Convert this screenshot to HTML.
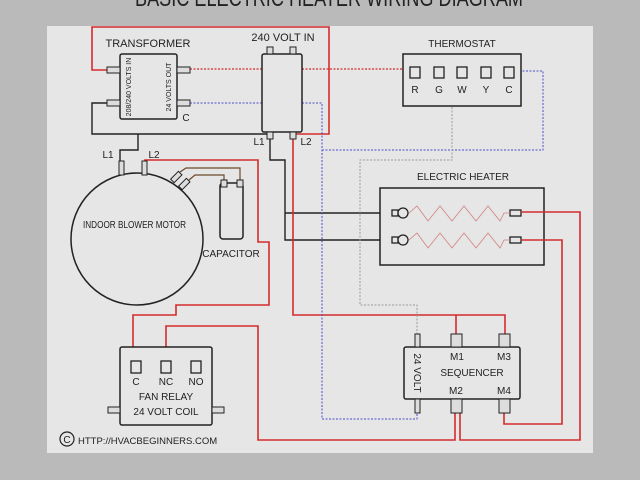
<!DOCTYPE html>
<html><head><meta charset="utf-8"><style>
html,body{margin:0;padding:0;background:#bababa;}
svg{display:block;}
text{font-family:"Liberation Sans",sans-serif;fill:#222;}
</style></head><body>
<svg width="640" height="480" viewBox="0 0 640 480" xmlns="http://www.w3.org/2000/svg">
<rect x="0" y="0" width="640" height="480" fill="#bababa"/>
<text x="135" y="6" font-size="24" textLength="388" lengthAdjust="spacingAndGlyphs" fill="#333">BASIC ELECTRIC HEATER WIRING DIAGRAM</text>
<rect x="47" y="26" width="546" height="427" fill="#e6e6e6"/>

<!-- red power loop -->
<polyline points="107,70 92,70 92,27 329,27 329,134 293,134" fill="none" stroke="#d42b2b" stroke-width="1.6"/>
<!-- black lines -->
<polyline points="107,103 92,103 92,134 270,134" fill="none" stroke="#222" stroke-width="1.4"/>
<polyline points="138,134 138,150 120,150 120,162" fill="none" stroke="#222" stroke-width="1.4"/>
<polyline points="270,139 270,160 285,160 285,240 393,240" fill="none" stroke="#222" stroke-width="1.4"/>
<line x1="285" y1="213" x2="393" y2="213" stroke="#222" stroke-width="1.4"/>
<!-- L2 red to sequencer -->
<polyline points="293,139 293,315 505,315 505,334" fill="none" stroke="#d42b2b" stroke-width="1.6"/>
<line x1="456" y1="315" x2="456" y2="334" stroke="#d42b2b" stroke-width="1.6"/>
<!-- dotted -->
<line x1="190" y1="69" x2="410" y2="69" stroke="#d42b2b" stroke-width="1.3" stroke-dasharray="2,1.5"/>
<polyline points="190,103 322,103 322,419 417,419 417,413" fill="none" stroke="#4a4ad0" stroke-width="1" stroke-dasharray="2,1.5"/>
<polyline points="322,150 543,150 543,71 517,71" fill="none" stroke="#4a4ad0" stroke-width="1" stroke-dasharray="2,1.5"/>
<polyline points="452,72 452,160 360,160 360,305 417,305 417,334" fill="none" stroke="#999" stroke-width="1" stroke-dasharray="2,1.5"/>

<!-- transformer -->
<text x="148" y="47" font-size="11" text-anchor="middle">TRANSFORMER</text>
<rect x="120" y="54" width="57" height="65" rx="2" fill="#e6e6e6" stroke="#222" stroke-width="1.5"/>
<rect x="107" y="67" width="13" height="6" fill="#ddd" stroke="#222"/>
<rect x="107" y="100" width="13" height="6" fill="#ddd" stroke="#222"/>
<rect x="177" y="67" width="13" height="6" fill="#ddd" stroke="#222"/>
<rect x="177" y="100" width="13" height="6" fill="#ddd" stroke="#222"/>
<text transform="translate(131,87) rotate(-90)" font-size="7" text-anchor="middle">208/240 VOLTS IN</text>
<text transform="translate(171,87) rotate(-90)" font-size="7" text-anchor="middle">24 VOLTS OUT</text>
<text x="186" y="121" font-size="10" text-anchor="middle">C</text>

<!-- 240 volt in -->
<text x="283" y="41" font-size="11" text-anchor="middle">240 VOLT IN</text>
<rect x="262" y="54" width="40" height="78" rx="2" fill="#e6e6e6" stroke="#222" stroke-width="1.5"/>
<rect x="267" y="47" width="6" height="7" fill="#ddd" stroke="#222"/>
<rect x="290" y="47" width="6" height="7" fill="#ddd" stroke="#222"/>
<rect x="267" y="132" width="6" height="7" fill="#ddd" stroke="#222"/>
<rect x="290" y="132" width="6" height="7" fill="#ddd" stroke="#222"/>
<text x="259" y="145" font-size="10" text-anchor="middle">L1</text>
<text x="306" y="145" font-size="10" text-anchor="middle">L2</text>

<!-- thermostat -->
<text x="462" y="47" font-size="10" text-anchor="middle">THERMOSTAT</text>
<rect x="403" y="54" width="118" height="52" fill="#e6e6e6" stroke="#222" stroke-width="1.5"/>
<g fill="#e6e6e6" stroke="#222" stroke-width="1.3">
<rect x="410" y="67" width="10" height="11"/><rect x="434" y="67" width="10" height="11"/><rect x="457" y="67" width="10" height="11"/><rect x="481" y="67" width="10" height="11"/><rect x="504" y="67" width="10" height="11"/>
</g>
<g font-size="10" text-anchor="middle"><text x="415" y="93">R</text><text x="439" y="93">G</text><text x="462" y="93">W</text><text x="486" y="93">Y</text><text x="509" y="93">C</text></g>

<!-- electric heater -->
<text x="463" y="180" font-size="10" text-anchor="middle">ELECTRIC HEATER</text>
<rect x="380" y="188" width="164" height="77" fill="#e6e6e6" stroke="#222" stroke-width="1.5"/>
<g fill="#e6e6e6" stroke="#222" stroke-width="1.3">
<rect x="392" y="210" width="6" height="6"/><circle cx="403" cy="213" r="5"/>
<rect x="392" y="237" width="6" height="6"/><circle cx="403" cy="240" r="5"/>
<rect x="510" y="210" width="11" height="6"/><rect x="510" y="237" width="11" height="6"/>
</g>
<polyline points="409,213 417,206 428,221 440,206 452,221 464,206 476,221 488,206 500,221 504,213 510,213" fill="none" stroke="#d08080" stroke-width="0.8"/>
<polyline points="409,240 417,233 428,248 440,233 452,248 464,233 476,248 488,233 500,248 504,240 510,240" fill="none" stroke="#d08080" stroke-width="0.8"/>
<polyline points="521,212 580,212 580,440 460,440 460,413" fill="none" stroke="#d42b2b" stroke-width="1.6"/>
<polyline points="521,240 562,240 562,424 504,424 504,413" fill="none" stroke="#d42b2b" stroke-width="1.6"/>

<!-- motor -->
<polyline points="145,162 145,160 258,160 258,242 269,242 269,305 176,305 176,315 133,315 133,361" fill="none" stroke="#d42b2b" stroke-width="1.6"/>
<circle cx="137" cy="239" r="66" fill="#e6e6e6" stroke="#222" stroke-width="1.5"/>
<rect x="119" y="161" width="5" height="14" fill="#ddd" stroke="#222"/>
<rect x="142" y="161" width="5" height="14" fill="#ddd" stroke="#222"/>
<text x="108" y="158" font-size="10" text-anchor="middle">L1</text>
<text x="154" y="158" font-size="10" text-anchor="middle">L2</text>
<text x="83" y="228" font-size="10" textLength="103" lengthAdjust="spacingAndGlyphs">INDOOR BLOWER MOTOR</text>
<polyline points="180,172 186,168 240,168 240,181" fill="none" stroke="#6b4a2a" stroke-width="1.2"/>
<polyline points="189,180 195,175 224,175 224,181" fill="none" stroke="#6b4a2a" stroke-width="1.2"/>
<rect x="174" y="172" width="5" height="11" transform="rotate(45 177 177)" fill="#ddd" stroke="#222"/>
<rect x="182" y="179" width="5" height="11" transform="rotate(45 185 184)" fill="#ddd" stroke="#222"/>
<rect x="220" y="183" width="23" height="56" rx="3" fill="#e6e6e6" stroke="#222" stroke-width="1.5"/>
<rect x="221" y="180" width="6" height="7" fill="#ddd" stroke="#222"/>
<rect x="237" y="180" width="6" height="7" fill="#ddd" stroke="#222"/>
<text x="231" y="257" font-size="10" text-anchor="middle">CAPACITOR</text>

<!-- M2 to NC -->
<polyline points="455,413 455,440 258,440 258,326 166,326 166,361" fill="none" stroke="#d42b2b" stroke-width="1.6"/>

<!-- fan relay -->
<rect x="120" y="347" width="92" height="78" rx="2" fill="#e6e6e6" stroke="#222" stroke-width="1.5"/>
<rect x="108" y="407" width="12" height="6" fill="#ddd" stroke="#222"/>
<rect x="212" y="407" width="12" height="6" fill="#ddd" stroke="#222"/>
<g fill="#e6e6e6" stroke="#222" stroke-width="1.3"><rect x="131" y="361" width="10" height="12"/><rect x="161" y="361" width="10" height="12"/><rect x="191" y="361" width="10" height="12"/></g>
<g font-size="10" text-anchor="middle"><text x="136" y="385">C</text><text x="166" y="385">NC</text><text x="196" y="385">NO</text>
<text x="166" y="400">FAN RELAY</text><text x="166" y="415">24 VOLT COIL</text></g>

<!-- sequencer -->
<rect x="404" y="347" width="116" height="52" rx="2" fill="#e6e6e6" stroke="#222" stroke-width="1.5"/>
<g fill="#ddd" stroke="#222">
<rect x="415" y="334" width="5" height="13"/><rect x="451" y="334" width="11" height="13"/><rect x="499" y="334" width="11" height="13"/>
<rect x="415" y="399" width="5" height="14"/><rect x="451" y="399" width="11" height="14"/><rect x="499" y="399" width="11" height="14"/>
</g>
<g font-size="10" text-anchor="middle"><text x="457" y="360">M1</text><text x="504" y="360">M3</text><text x="472" y="376">SEQUENCER</text><text x="456" y="394">M2</text><text x="504" y="394">M4</text></g>
<text transform="translate(414,373) rotate(90)" font-size="10" text-anchor="middle">24 VOLT</text>

<!-- copyright -->
<circle cx="67" cy="439" r="7" fill="none" stroke="#222" stroke-width="1.2"/>
<text x="67" y="443" font-size="10" text-anchor="middle">C</text>
<text x="78" y="444" font-size="9.5">HTTP://HVACBEGINNERS.COM</text>
</svg>
</body></html>
